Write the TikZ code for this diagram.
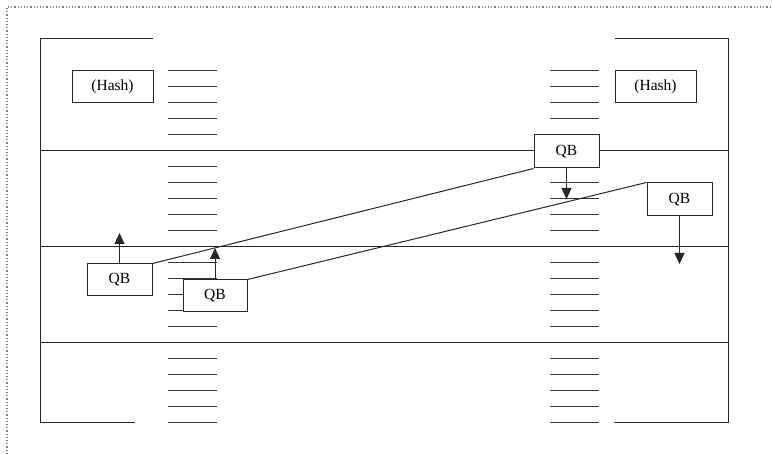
\documentclass[tikz,border=0pt]{standalone}
\usepackage{fontspec}
\setmainfont{Liberation Serif}
\usetikzlibrary{arrows.meta}
\begin{document}
\begin{tikzpicture}[x=1pt,y=-1pt,
  ln/.style={line width=1pt,draw=black!85},
  tick/.style={line width=1pt,draw=black!80},
  box/.style={draw=black!85,line width=1pt,fill=white,rectangle,inner sep=0pt,
     minimum width=65pt,minimum height=33pt,font=\fontsize{15.5}{17}\selectfont},
  hashbox/.style={box,minimum width=81pt,minimum height=32pt},
  arr/.style={line width=1pt,draw=black!85,-{Triangle[length=11pt,width=10pt]}}]
\useasboundingbox (0,0) rectangle (772,454);
% dotted outer frame
\draw[gray,dotted,line width=1.2pt] (7,454) -- (7,7) -- (772,7);
% left bracket
\draw[ln] (153,39) -- (40,39) -- (40,423) -- (135,423);
% right bracket
\draw[ln] (615,39) -- (728,39) -- (728,423) -- (614,423);
% separators
\foreach \y in {151,247,343} \draw[ln] (40,\y) -- (728,\y);
% tick columns
\foreach \k in {0,...,22}{
  \pgfmathtruncatemacro{\yy}{71+16*\k}
  \ifnum\k=5 \else\ifnum\k=11 \else\ifnum\k=17 \else
    \draw[tick] (168,\yy) -- (217,\yy);
    \ifnum\k=4 \else\ifnum\k=6 \else
      \draw[tick] (550,\yy) -- (599,\yy);
    \fi\fi
  \fi\fi\fi
}
% hash boxes
\node[hashbox] (hl) at (112.5,87) {(Hash)};
\node[hashbox] (hr) at (655.5,87) {(Hash)};
% QB boxes
\node[box] (qr1) at (566.5,151.5) {QB};
\node[box] (qr2) at (679.5,199.5) {QB};
\node[box,minimum height=32pt] (ql1) at (119.5,280) {QB};
\node[box,minimum width=64pt,minimum height=32pt] (ql2) at (215,296) {QB};
% arrow ends
\coordinate (al1) at (119.5,233);
\coordinate (al2) at (215,248);
\coordinate (ar1) at (566.5,199);
\coordinate (ar2) at (679.5,264);
\draw[arr] (ql1.north) -- (al1);
\draw[arr] (ql2.north) -- (al2);
\draw[arr] (qr1.south) -- (ar1);
\draw[arr] (qr2.south) -- (ar2);
% diagonals
\draw[ln] (ql1.north east) -- (qr1.south west);
\draw[ln] (ql2.north east) -- (qr2.north west);
\end{tikzpicture}
\end{document}
